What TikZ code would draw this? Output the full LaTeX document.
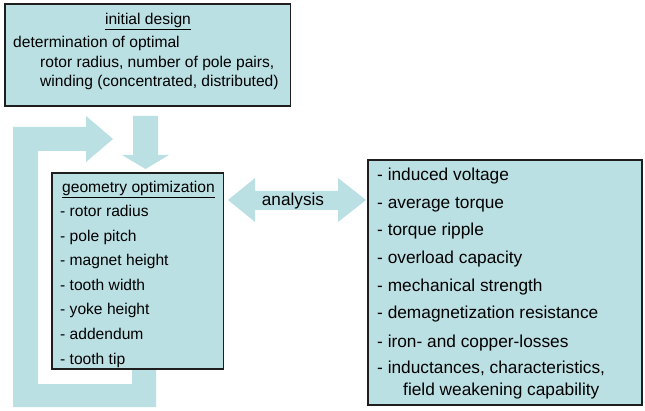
\documentclass[tikz,border=0pt]{standalone}
\usepackage{fontspec}
\setmainfont{Liberation Sans}
\definecolor{boxfill}{HTML}{BBE0E3}
\definecolor{boxline}{HTML}{1E1E1E}
\begin{document}
\begin{tikzpicture}[x=1pt,y=-1pt,
  panel/.style={draw=boxline,line width=1.3pt,fill=boxfill,inner sep=0pt},
  blockarrow/.style={fill=boxfill,draw=none},
  txt/.style={anchor=base west,inner sep=0pt,font=\fontsize{15.6}{18}\selectfont},
  btxt/.style={anchor=base west,inner sep=0pt,font=\fontsize{17.3}{20}\selectfont},
  ctxt/.style={anchor=base,inner sep=0pt}]
\useasboundingbox (0,0) rectangle (645,411);
% loop arrow (behind)
\fill[blockarrow] (132,360) -- (132,384) -- (38,384) -- (38,151) -- (86,151) -- (86,162)
  -- (113,139) -- (86,116) -- (86,127) -- (13,127) -- (13,407) -- (156,407) -- (156,360) -- cycle;
% down arrow
\fill[blockarrow] (133,116) -- (158,116) -- (158,155) -- (169,155) -- (145.5,169) -- (122,155) -- (133,155) -- cycle;
% double arrow
\fill[blockarrow] (228,200) -- (255,178) -- (255,191) -- (338,191) -- (338,178) -- (366,200)
  -- (338,222) -- (338,210) -- (255,210) -- (255,222) -- cycle;
% boxes
\node[panel,minimum width=285.5pt,minimum height=102pt] (init) at (147.75,55) {};
\node[panel,minimum width=171.5pt,minimum height=196pt] (geo) at (137.75,271) {};
\node[panel,minimum width=274pt,minimum height=245pt] (res) at (505,282.5) {};
% initial design text
\node[ctxt,font=\fontsize{15.6}{18}\selectfont] (t0) at (148,25) {\underline{initial design}};
\node[txt] (t1) at (13,48) {determination of optimal};
\node[txt] (t2) at (40,68) {rotor radius, number of pole pairs,};
\node[txt] (t3) at (40,87) {winding (concentrated, distributed)};
% geometry optimization
\node[txt] (g0) at (62,193) {\underline{geometry optimization}};
\node[txt] (g1) at (60,217) {- rotor radius};
\node[txt] (g2) at (60,242) {- pole pitch};
\node[txt] (g3) at (60,266) {- magnet height};
\node[txt] (g4) at (60,291) {- tooth width};
\node[txt] (g5) at (60,315) {- yoke height};
\node[txt] (g6) at (60,340) {- addendum};
\node[txt] (g7) at (60,364) {- tooth tip};
% analysis
\node[ctxt,font=\fontsize{17.2}{20}\selectfont] (an) at (293,205.5) {analysis};
% right box
\node[btxt] (r1) at (377,180.5) {- induced voltage};
\node[btxt] (r2) at (377,208.5) {- average torque};
\node[btxt] (r3) at (377,235.5) {- torque ripple};
\node[btxt] (r4) at (377,263.5) {- overload capacity};
\node[btxt] (r5) at (377,291.5) {- mechanical strength};
\node[btxt] (r6) at (377,318.5) {- demagnetization resistance};
\node[btxt] (r7) at (377,347.5) {- iron- and copper-losses};
\node[btxt] (r8) at (377,373.5) {- inductances, characteristics,};
\node[btxt] (r9) at (403,395.5) {field weakening capability};
\end{tikzpicture}
\end{document}
